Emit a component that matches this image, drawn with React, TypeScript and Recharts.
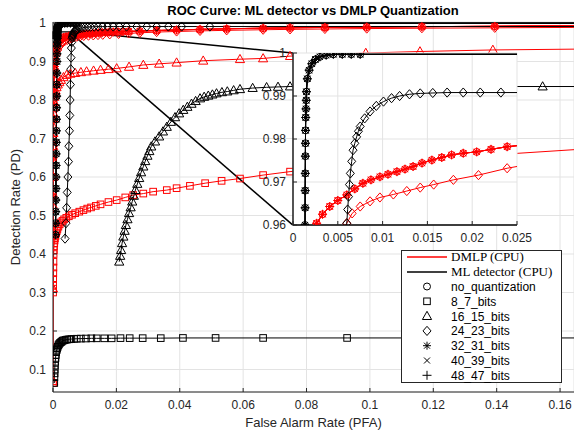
import React from 'react';
import { LineChart, Line, XAxis, YAxis, CartesianGrid, ReferenceArea, ReferenceLine } from 'recharts';

type Pt = [number, number]; // [PFA, PD]

// ---- ML detector (CPU) ----
const ML_8_7: Pt[] = [
  [0.0004, 0.065], [0.00045, 0.08], [0.0005, 0.09], [0.00055, 0.1], [0.0006, 0.11], [0.0007, 0.12],
  [0.0008, 0.13], [0.0009, 0.138], [0.001, 0.145], [0.0012, 0.151], [0.0013, 0.155], [0.0015, 0.159],
  [0.0017, 0.163], [0.0019, 0.166], [0.0022, 0.169], [0.0025, 0.171], [0.0028, 0.173], [0.0031, 0.175],
  [0.0035, 0.176], [0.004, 0.177], [0.0045, 0.178], [0.0051, 0.1785], [0.0058, 0.179], [0.0066, 0.1795],
  [0.0075, 0.18], [0.0088, 0.1803], [0.0104, 0.1805], [0.0121, 0.181], [0.0138, 0.181], [0.0162, 0.181],
  [0.0185, 0.181], [0.0213, 0.1815], [0.0242, 0.1815], [0.0283, 0.1815], [0.034, 0.1815], [0.041, 0.182],
  [0.0513, 0.182], [0.0663, 0.182], [0.0928, 0.182], [0.2, 0.182],
];
const ML_16_15: Pt[] = [
  [0.0209, 0.38], [0.0212, 0.395], [0.0215, 0.41], [0.0218, 0.428], [0.0222, 0.445], [0.0226, 0.46],
  [0.023, 0.475], [0.0235, 0.49], [0.024, 0.506], [0.0245, 0.521], [0.025, 0.536], [0.0255, 0.551],
  [0.026, 0.566], [0.0266, 0.582], [0.0272, 0.597], [0.0278, 0.612], [0.0285, 0.627], [0.0291, 0.641],
  [0.0298, 0.655], [0.0304, 0.667], [0.031, 0.679], [0.0322, 0.692], [0.0335, 0.705], [0.0347, 0.718],
  [0.0359, 0.73], [0.0372, 0.743], [0.0385, 0.755], [0.0398, 0.765], [0.0411, 0.774], [0.0424, 0.782],
  [0.0437, 0.79], [0.045, 0.797], [0.0464, 0.804], [0.0477, 0.808], [0.049, 0.811], [0.0503, 0.814],
  [0.0516, 0.817], [0.0533, 0.82], [0.055, 0.822], [0.057, 0.825], [0.059, 0.828], [0.063, 0.831],
  [0.0674, 0.833], [0.071, 0.834], [0.0748, 0.835], [0.09, 0.835], [0.11, 0.835], [0.13, 0.835],
  [0.1545, 0.835], [0.2, 0.835],
];
const ML_24_23: Pt[] = [
  [0.0038, 0.44], [0.0041, 0.48], [0.0043, 0.52], [0.0045, 0.56], [0.0047, 0.6], [0.0049, 0.64],
  [0.005, 0.68], [0.0052, 0.72], [0.0053, 0.76], [0.0054, 0.8], [0.0055, 0.84], [0.0056, 0.88],
  [0.0057, 0.91], [0.0058, 0.935], [0.0059, 0.95], [0.006, 0.9604], [0.0061, 0.9636], [0.0062, 0.9666],
  [0.0063, 0.9694], [0.0064, 0.972], [0.00655, 0.9748], [0.0067, 0.9774], [0.0069, 0.979], [0.0071, 0.9805],
  [0.0073, 0.9818], [0.0075, 0.9829], [0.008, 0.9848], [0.0086, 0.9864], [0.0093, 0.9877], [0.0101, 0.9887],
  [0.011, 0.9895], [0.0119, 0.99], [0.013, 0.9904], [0.0142, 0.9906], [0.0156, 0.9907], [0.0172, 0.9908],
  [0.019, 0.9908], [0.0209, 0.9908], [0.0232, 0.9908], [0.0264, 0.9908], [0.0296, 0.9908], [0.0327, 0.9908],
  [0.0364, 0.9908], [0.0406, 0.9908], [0.0495, 0.9908], [0.2, 0.9908],
];
// no_quantization, 32_31, 40_39 and 48_47 lie on top of each other
const ML_FULL: Pt[] = [
  [0.0008, 0.45], [0.00083, 0.48], [0.00086, 0.51], [0.00089, 0.54], [0.00092, 0.57], [0.00095, 0.6],
  [0.00098, 0.63], [0.001, 0.66], [0.00103, 0.69], [0.00106, 0.72], [0.00109, 0.75], [0.00112, 0.78],
  [0.00115, 0.81], [0.00118, 0.84], [0.0012, 0.87], [0.00123, 0.9], [0.00126, 0.92], [0.0013, 0.94],
  [0.00132, 0.95], [0.00134, 0.96], [0.00135, 0.964], [0.00136, 0.968], [0.00137, 0.972], [0.00138, 0.976],
  [0.00139, 0.979], [0.0014, 0.982], [0.00142, 0.985], [0.00145, 0.987], [0.00148, 0.989], [0.0015, 0.991],
  [0.0016, 0.994], [0.0018, 0.996], [0.0021, 0.9975], [0.0025, 0.9985], [0.003, 0.9991], [0.0037, 0.9995],
  [0.0045, 0.9997], [0.0055, 0.9997], [0.0065, 0.9997], [0.0075, 0.9997], [0.2, 0.9997],
];

// ---- DMLP (CPU) ----
const DMLP_8_7: Pt[] = [
  [0, 0.065], [0.00003, 0.3], [0.00004, 0.31], [0.00005, 0.32], [0.00007, 0.335], [0.0001, 0.35],
  [0.00012, 0.365], [0.00015, 0.38], [0.0002, 0.4], [0.00025, 0.41], [0.0003, 0.42], [0.0004, 0.428],
  [0.0005, 0.435], [0.0006, 0.441], [0.0008, 0.447], [0.001, 0.454], [0.0012, 0.46], [0.0014, 0.465],
  [0.0017, 0.471], [0.0021, 0.477], [0.0025, 0.482], [0.003, 0.486], [0.0035, 0.49], [0.0042, 0.494],
  [0.005, 0.498], [0.006, 0.502], [0.007, 0.506], [0.0083, 0.51], [0.0096, 0.514], [0.0108, 0.518],
  [0.012, 0.521], [0.0135, 0.525], [0.015, 0.529], [0.0175, 0.535], [0.0201, 0.54], [0.0228, 0.547],
  [0.0253, 0.553], [0.0285, 0.557], [0.0316, 0.562], [0.0359, 0.566], [0.039, 0.571], [0.0432, 0.577],
  [0.048, 0.584], [0.0532, 0.59], [0.059, 0.596], [0.0663, 0.605], [0.0748, 0.614], [0.085, 0.622],
  [0.097, 0.631], [0.11, 0.64], [0.125, 0.65], [0.2, 0.69],
];
const DMLP_16_15: Pt[] = [
  [0, 0.07], [0, 0.31], [0.00002, 0.45], [0.00004, 0.6], [0.00006, 0.68], [0.00008, 0.7],
  [0.0001, 0.714], [0.00012, 0.73], [0.00015, 0.75], [0.00018, 0.765], [0.0002, 0.78], [0.0003, 0.795],
  [0.0004, 0.808], [0.0006, 0.817], [0.0008, 0.825], [0.0011, 0.833], [0.0015, 0.84], [0.002, 0.846],
  [0.0025, 0.852], [0.0033, 0.859], [0.0043, 0.865], [0.0055, 0.868], [0.007, 0.87], [0.0088, 0.872],
  [0.0106, 0.874], [0.0128, 0.876], [0.015, 0.878], [0.0175, 0.88], [0.0201, 0.882], [0.024, 0.886],
  [0.0285, 0.891], [0.0335, 0.894], [0.039, 0.897], [0.0474, 0.902], [0.059, 0.906], [0.0663, 0.908],
  [0.0748, 0.914], [0.0987, 0.922], [0.1158, 0.926], [0.1388, 0.93], [0.2, 0.935],
];
const DMLP_24_23: Pt[] = [
  [0, 0.45], [0.00005, 0.52], [0.0001, 0.6], [0.00015, 0.68], [0.0002, 0.75], [0.0003, 0.81],
  [0.0004, 0.85], [0.0006, 0.88], [0.0008, 0.9], [0.0011, 0.917], [0.0015, 0.93], [0.002, 0.939],
  [0.0025, 0.945], [0.003, 0.95], [0.0037, 0.953], [0.0045, 0.956], [0.0052, 0.958], [0.006, 0.9604],
  [0.0066, 0.9627], [0.0075, 0.9643], [0.0086, 0.9655], [0.0097, 0.9664], [0.0112, 0.9671], [0.0127, 0.9679],
  [0.0142, 0.9687], [0.0157, 0.9694], [0.0179, 0.9705], [0.0207, 0.9716], [0.0239, 0.9732], [0.0274, 0.9745],
  [0.0327, 0.9765], [0.039, 0.978], [0.0464, 0.9795], [0.0548, 0.981], [0.0663, 0.9825], [0.0748, 0.9835],
  [0.0858, 0.9845], [0.099, 0.9855], [0.1164, 0.9865], [0.1394, 0.9875], [0.2, 0.99],
];
const DMLP_FULL: Pt[] = [
  [0, 0.45], [0, 0.55], [0.00005, 0.65], [0.0001, 0.75], [0.00015, 0.79], [0.0002, 0.82],
  [0.0003, 0.87], [0.0004, 0.887], [0.0005, 0.9], [0.0008, 0.925], [0.001, 0.933], [0.0012, 0.94],
  [0.0015, 0.946], [0.0018, 0.951], [0.0022, 0.956], [0.00264, 0.9604], [0.0033, 0.9625], [0.0041, 0.9643],
  [0.005, 0.9657], [0.006, 0.967], [0.0069, 0.9684], [0.0078, 0.9697], [0.0087, 0.9705], [0.0097, 0.9712],
  [0.0106, 0.9718], [0.0116, 0.9724], [0.0125, 0.973], [0.0134, 0.9736], [0.0144, 0.9744], [0.0155, 0.9751],
  [0.0166, 0.9757], [0.0177, 0.9763], [0.019, 0.9767], [0.0205, 0.977], [0.0221, 0.9776], [0.0239, 0.9782],
  [0.0274, 0.979], [0.0327, 0.9805], [0.039, 0.982], [0.0464, 0.9835], [0.0548, 0.985], [0.0663, 0.9865],
  [0.0748, 0.9875], [0.0858, 0.9885], [0.099, 0.9895], [0.1164, 0.9905], [0.1394, 0.9915], [0.2, 0.996],
];

const QUANT_LABELS = ['no_quantization', '8_7_bits', '16_15_bits', '24_23_bits', '32_31_bits', '40_39_bits', '48_47_bits'];
const MARKERS = ['circle', 'square', 'triangle', 'diamond', 'asterisk', 'cross', 'plus'];
const DMLP_CURVES = [DMLP_FULL, DMLP_8_7, DMLP_16_15, DMLP_24_23, DMLP_FULL, DMLP_FULL, DMLP_FULL];
const ML_CURVES = [ML_FULL, ML_8_7, ML_16_15, ML_24_23, ML_FULL, ML_FULL, ML_FULL];

const X_TICKS = [0, 0.02, 0.04, 0.06, 0.08, 0.1, 0.12, 0.14, 0.16];
const Y_TICKS = [0.1, 0.2, 0.3, 0.4, 0.5, 0.6, 0.7, 0.8, 0.9, 1];
const INSET_X_TICKS = [0, 0.005, 0.01, 0.015, 0.02, 0.025];
const INSET_Y_TICKS = [0.96, 0.97, 0.98, 0.99, 1];

// zoomed region and where the inset sits, in main-axes data units
const ZOOM_BOX = { x1: 0, x2: 0.0076, y1: 0.96, y2: 0.977 };
const INSET_CORNER_TOP = { x: 0.0757, y: 0.922 };
const INSET_CORNER_BOTTOM = { x: 0.0757, y: 0.475 };

const RED = '#ff0000';
const BLACK = '#000000';
const AXIS = '#262626';
const GRID = '#e3e3e3';
const SANS = '"Liberation Sans", Arial, Helvetica, sans-serif';
const SERIF = '"Liberation Serif", "Times New Roman", serif';

const toRows = (pts: Pt[]) => pts.map(([pfa, pd]) => ({ pfa, pd }));

const SERIES = [
  ...DMLP_CURVES.map((c, i) => ({ id: `dmlp-${i}`, data: toRows(c), color: RED, marker: MARKERS[i] })),
  ...ML_CURVES.map((c, i) => ({ id: `ml-${i}`, data: toRows(c), color: BLACK, marker: MARKERS[i] })),
];

function Marker({ cx, cy, shape, color }: { cx?: number; cy?: number; shape: string; color: string }) {
  if (cx == null || cy == null || isNaN(cx) || isNaN(cy)) return null;
  const p = { fill: 'none', stroke: color, strokeWidth: 1 };
  switch (shape) {
    case 'circle':
      return <circle cx={cx} cy={cy} r={3.5} {...p} />;
    case 'square':
      return <rect x={cx - 3.3} y={cy - 3.3} width={6.6} height={6.6} {...p} />;
    case 'triangle':
      return <polygon points={`${cx},${cy - 4.8} ${cx - 4.6},${cy + 3.4} ${cx + 4.6},${cy + 3.4}`} {...p} />;
    case 'diamond':
      return <polygon points={`${cx},${cy - 4.6} ${cx + 4},${cy} ${cx},${cy + 4.6} ${cx - 4},${cy}`} {...p} />;
    case 'asterisk':
      return (
        <g {...p}>
          <line x1={cx - 4} y1={cy} x2={cx + 4} y2={cy} />
          <line x1={cx} y1={cy - 4} x2={cx} y2={cy + 4} />
          <line x1={cx - 3} y1={cy - 3} x2={cx + 3} y2={cy + 3} />
          <line x1={cx - 3} y1={cy + 3} x2={cx + 3} y2={cy - 3} />
        </g>
      );
    case 'cross':
      return (
        <g {...p}>
          <line x1={cx - 3} y1={cy - 3} x2={cx + 3} y2={cy + 3} />
          <line x1={cx - 3} y1={cy + 3} x2={cx + 3} y2={cy - 3} />
        </g>
      );
    default:
      return (
        <g {...p}>
          <line x1={cx - 4.5} y1={cy} x2={cx + 4.5} y2={cy} />
          <line x1={cx} y1={cy - 4.5} x2={cx} y2={cy + 4.5} />
        </g>
      );
  }
}

const XTick = (props: any) => {
  const { x, y, payload } = props;
  return (
    <g>
      <line x1={x} x2={x} y1={y} y2={y - 4} stroke={AXIS} />
      <text x={x} y={y + 17} textAnchor="middle" fontSize={12} fontFamily={SANS} fill={AXIS}>
        {String(payload.value)}
      </text>
    </g>
  );
};

const YTick = (props: any) => {
  const { x, y, payload } = props;
  return (
    <g>
      <line x1={x} x2={x + 4} y1={y} y2={y} stroke={AXIS} />
      <text x={x - 7} y={y + 4} textAnchor="end" fontSize={12} fontFamily={SANS} fill={AXIS}>
        {String(payload.value)}
      </text>
    </g>
  );
};

function renderSeries() {
  return SERIES.map((s) => (
    <Line
      key={s.id}
      data={s.data}
      dataKey="pd"
      type="linear"
      stroke={s.color}
      strokeWidth={1}
      isAnimationActive={false}
      activeDot={false}
      dot={(d: any) => <Marker key={`${s.id}-${d.index}`} cx={d.cx} cy={d.cy} shape={s.marker} color={s.color} />}
    />
  ));
}

function LegendBox() {
  const rows = QUANT_LABELS.map((label, i) => ({ label, marker: MARKERS[i] }));
  return (
    <svg width={161} height={133} style={{ position: 'absolute', left: 401, top: 250 }}>
      <rect x={0.5} y={0.5} width={160} height={132} fill="#fff" stroke={AXIS} strokeWidth={1} />
      <line x1={6} x2={46} y1={7} y2={7} stroke={RED} strokeWidth={1.5} />
      <text x={50} y={11} fontSize={13} fontFamily={SERIF} fill="#000">DMLP (CPU)</text>
      <line x1={6} x2={46} y1={22} y2={22} stroke={BLACK} strokeWidth={1.5} />
      <text x={50} y={26} fontSize={13} fontFamily={SERIF} fill="#000">ML detector (CPU)</text>
      {rows.map((r, i) => (
        <g key={r.label}>
          <Marker cx={26} cy={36.5 + i * 14.8} shape={r.marker} color={BLACK} />
          <text x={50} y={41 + i * 14.8} fontSize={12} fontFamily={SANS} fill="#000">{r.label}</text>
        </g>
      ))}
    </svg>
  );
}

export default function App() {
  return (
    <div style={{ position: 'absolute', left: 0, top: 0, width: 574, height: 432, background: '#fff', overflow: 'hidden' }}>
      <svg width={574} height={22} style={{ position: 'absolute', left: 0, top: 0 }}>
        <text x={313} y={15} textAnchor="middle" fontSize={13} fontWeight="bold" fontFamily={SANS} fill="#000">
          ROC Curve: ML detector vs DMLP Quantization
        </text>
      </svg>

      <div style={{ position: 'absolute', left: 0, top: 0 }}>
        <LineChart width={574} height={432} margin={{ top: 22, right: 0, bottom: 0, left: 0 }}>
          <CartesianGrid stroke={GRID} strokeWidth={1} />
          <XAxis
            type="number"
            dataKey="pfa"
            domain={[0, 0.1644]}
            allowDataOverflow
            ticks={X_TICKS}
            interval={0}
            height={40}
            tickSize={0}
            tickMargin={0}
            tickLine={false}
            axisLine={{ stroke: AXIS }}
            tick={<XTick />}
            label={(p: any) => {
              const vb = p.viewBox;
              return (
                <text x={vb.x + vb.width / 2} y={vb.y + 35} textAnchor="middle" fontSize={13} fontFamily={SANS} fill={AXIS}>
                  False Alarm Rate (PFA)
                </text>
              );
            }}
          />
          <YAxis
            type="number"
            domain={[0.0416, 1.0026]}
            allowDataOverflow
            ticks={Y_TICKS}
            interval={0}
            width={53}
            tickSize={0}
            tickMargin={0}
            tickLine={false}
            axisLine={{ stroke: AXIS }}
            tick={<YTick />}
            label={(p: any) => {
              const vb = p.viewBox;
              const cy = vb.y + vb.height / 2;
              return (
                <text x={20} y={cy} transform={`rotate(-90 20 ${cy})`} textAnchor="middle" fontSize={13} fontFamily={SANS} fill={AXIS}>
                  Detection Rate (PD)
                </text>
              );
            }}
          />
          {renderSeries()}
          <ReferenceArea
            x1={ZOOM_BOX.x1}
            x2={ZOOM_BOX.x2}
            y1={ZOOM_BOX.y1}
            y2={ZOOM_BOX.y2}
            fill="none"
            stroke={BLACK}
            strokeWidth={1.3}
            ifOverflow="visible"
          />
          <ReferenceLine
            segment={[{ x: ZOOM_BOX.x2, y: ZOOM_BOX.y2 }, INSET_CORNER_TOP]}
            stroke={BLACK}
            strokeWidth={1.5}
            ifOverflow="visible"
          />
          <ReferenceLine
            segment={[{ x: ZOOM_BOX.x2, y: ZOOM_BOX.y1 }, INSET_CORNER_BOTTOM]}
            stroke={BLACK}
            strokeWidth={1.5}
            ifOverflow="visible"
          />
        </LineChart>
      </div>

      <div style={{ position: 'absolute', left: 243, top: 45 }}>
        <LineChart width={300} height={200} margin={{ top: 8, right: 26, bottom: 0, left: 0 }}>
          <CartesianGrid stroke={GRID} strokeWidth={1} fill="#fff" fillOpacity={1} />
          <XAxis
            type="number"
            dataKey="pfa"
            domain={[0, 0.025]}
            allowDataOverflow
            ticks={INSET_X_TICKS}
            interval={0}
            height={20}
            tickSize={0}
            tickMargin={0}
            tickLine={false}
            axisLine={{ stroke: BLACK, strokeWidth: 1.3 }}
            tick={<XTick />}
          />
          <YAxis
            type="number"
            domain={[0.96, 1]}
            allowDataOverflow
            ticks={INSET_Y_TICKS}
            interval={0}
            width={50}
            tickSize={0}
            tickMargin={0}
            tickLine={false}
            axisLine={{ stroke: BLACK, strokeWidth: 1.3 }}
            tick={<YTick />}
          />
          {renderSeries()}
        </LineChart>
      </div>

      <LegendBox />
    </div>
  );
}
